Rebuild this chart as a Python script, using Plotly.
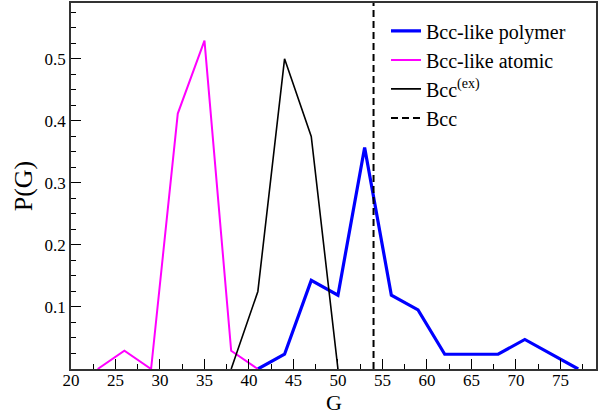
import plotly.graph_objects as go

# Distributions of G for the different structures
g_polymer = [41, 44, 47, 50, 53, 56, 59, 62, 65, 68, 71, 74, 77]
p_polymer = [0.0, 0.0238, 0.1429, 0.1190, 0.3571, 0.1190, 0.0952, 0.0238, 0.0238, 0.0238, 0.0476, 0.0238, 0.0]

g_atomic = [23, 26, 29, 32, 35, 38, 41]
p_atomic = [0.0, 0.0294, 0.0, 0.4118, 0.5294, 0.0294, 0.0]

g_ex = [38, 41, 44, 47, 50]
p_ex = [0.0, 0.125, 0.5, 0.375, 0.0]

g_bcc = 54
y_max = 0.59

x_ticks = [20, 25, 30, 35, 40, 45, 50, 55, 60, 65, 70, 75]
y_ticks = [0.1, 0.2, 0.3, 0.4, 0.5]

font_family = "Liberation Serif"

fig = go.Figure()
fig.add_trace(go.Scatter(x=g_polymer, y=p_polymer, mode="lines", name="Bcc-like polymer",
                         line=dict(color="#0000ff", width=3.2)))
fig.add_trace(go.Scatter(x=g_atomic, y=p_atomic, mode="lines", name="Bcc-like atomic",
                         line=dict(color="#ff00ff", width=2)))
fig.add_trace(go.Scatter(x=g_ex, y=p_ex, mode="lines", name="Bcc<sup>(ex)</sup>",
                         line=dict(color="black", width=1.6)))
fig.add_trace(go.Scatter(x=[g_bcc, g_bcc], y=[0, y_max], mode="lines", name="Bcc",
                         line=dict(color="black", width=2, dash="7px,4px")))

axis_common = dict(
    showline=True, linecolor="#333333", linewidth=1.5, mirror=True,
    ticks="inside", ticklen=10, tickwidth=1.3, tickcolor="black",
    showgrid=False, zeroline=False,
    tickfont=dict(family=font_family, size=17, color="black"),
)

fig.update_xaxes(
    range=[20, 79], tickvals=x_ticks, ticklabelstandoff=-5,
    minor=dict(dtick=2.5, tick0=20, ticks="inside", ticklen=5, tickwidth=1.2, tickcolor="black"),
    **axis_common,
)
fig.update_yaxes(
    range=[0, y_max], tickvals=y_ticks, tickformat=".1f",
    minor=dict(dtick=0.025, tick0=0, ticks="inside", ticklen=5, tickwidth=1.2, tickcolor="black"),
    title=dict(text="P(G)", font=dict(family=font_family, size=26, color="black"), standoff=4),
    **axis_common,
)

# x-axis title placed just under the tick labels
fig.add_annotation(
    text="G", xref="paper", yref="paper", x=0.5, y=0,
    xanchor="center", yanchor="middle", yshift=-33, showarrow=False,
    font=dict(family=font_family, size=22, color="black"),
)

fig.update_layout(
    width=610, height=416,
    margin=dict(l=71, r=14, t=1, b=47),
    plot_bgcolor="white", paper_bgcolor="white",
    font=dict(family=font_family, color="black"),
    legend=dict(
        x=0.60, y=0.977, xanchor="left", yanchor="top",
        bgcolor="rgba(0,0,0,0)", borderwidth=0,
        font=dict(family=font_family, size=20, color="black"),
        itemwidth=30, tracegroupgap=0,
    ),
)

fig.write_html("out.html")
